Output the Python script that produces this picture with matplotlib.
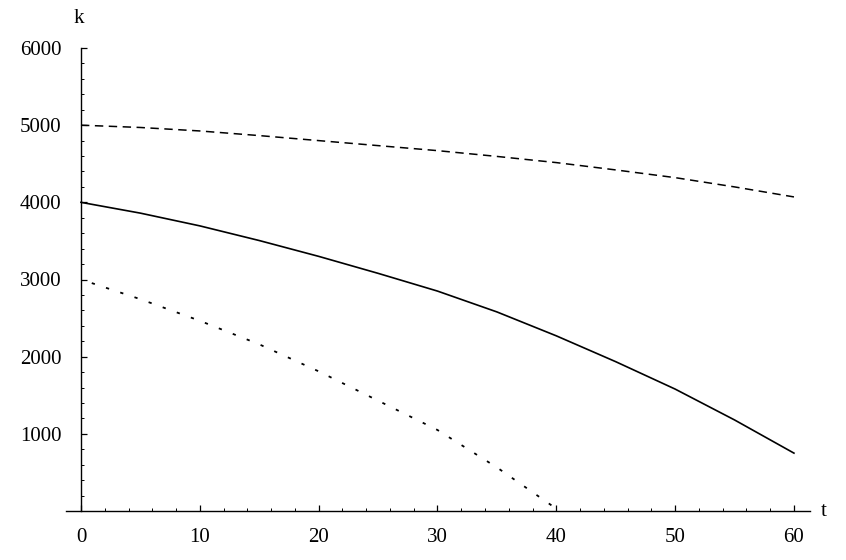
import matplotlib
matplotlib.use("Agg")
import matplotlib.pyplot as plt
from matplotlib.ticker import MultipleLocator

plt.rcParams["font.family"] = ["Liberation Serif", "DejaVu Serif"]

# values
t_upper = [0, 5, 10, 15, 20, 25, 30, 35, 40, 45, 50, 55, 60]
k_upper = [5000, 4970, 4925, 4865, 4800, 4735, 4670, 4595, 4515, 4420, 4320, 4200, 4070]

t_mid = [0, 5, 10, 15, 20, 25, 30, 35, 40, 45, 50, 55, 60]
k_mid = [4000, 3860, 3695, 3505, 3300, 3080, 2850, 2580, 2270, 1935, 1580, 1180, 750]

t_low = [0, 5, 10, 15, 20, 25, 30, 35, 40]
k_low = [3000, 2745, 2465, 2160, 1810, 1430, 1050, 565, 30]

x_ticks = [0, 10, 20, 30, 40, 50, 60]
y_ticks = [1000, 2000, 3000, 4000, 5000, 6000]

fig = plt.figure(figsize=(8.46, 5.6), dpi=100)
ax = fig.add_axes([66 / 846, 49 / 560, 744 / 846, 463 / 560])

ax.plot(t_upper, k_upper, color="black", lw=1.1, linestyle=(0, (5.5, 3.6)))
ax.plot(t_mid, k_mid, color="black", lw=1.2, linestyle="-")
ax.plot(t_low, k_low, color="black", lw=1.3, linestyle=(2, (1.8, 6.5)))

ax.set_xlim(-1.26, 61.35)
ax.set_ylim(0, 6000)

# Mathematica-style axes through the origin
for s in ["top", "right"]:
    ax.spines[s].set_visible(False)
ax.spines["left"].set_position(("data", 0))
ax.spines["left"].set_bounds(0, 6000)
for s in ["left", "bottom"]:
    ax.spines[s].set_linewidth(1.0)

ax.set_xticks(x_ticks)
ax.set_yticks(y_ticks)
ax.xaxis.set_minor_locator(MultipleLocator(2))
ax.yaxis.set_minor_locator(MultipleLocator(200))
ax.tick_params(which="major", direction="in", length=4, width=0.9, labelsize=15)
ax.tick_params(which="minor", direction="in", length=2.5, width=0.7)
ax.tick_params(axis="x", pad=12)
ax.tick_params(axis="y", pad=14)

ax.text(-0.2, 6380, "k", fontsize=15, ha="center", va="center")
ax.text(62.5, 0, "t", fontsize=15, ha="center", va="center", clip_on=False)

fig.savefig("out.png", dpi=100)
